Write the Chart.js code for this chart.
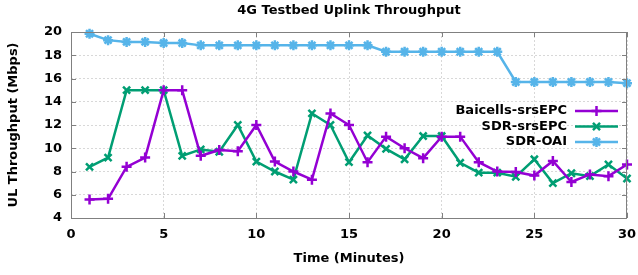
<!DOCTYPE html>
<html>
<head>
<meta charset="utf-8">
<script src="https://cdn.jsdelivr.net/npm/chart.js@4"></script>
<style>
  html, body { margin: 0; padding: 0; background: #fff; }
  #wrap { width: 638px; height: 275px; }
</style>
</head>
<body>
<div id="wrap"><canvas id="chart"></canvas></div>
<script>
// minutes 1..30
const minutes = [1, 2, 3, 4, 5, 6, 7, 8, 9, 10, 11, 12, 13, 14, 15, 16, 17, 18, 19, 20, 21, 22, 23, 24, 25, 26, 27, 28, 29, 30];

const baicellsSrs = [5.6, 5.65, 8.4, 9.2, 15, 15, 9.35, 9.85, 9.75, 12, 8.85, 8.0, 7.3, 13, 12, 8.8, 11, 10, 9.15, 11, 11, 8.8, 8.0, 7.95, 7.65, 8.9, 7.1, 7.75, 7.6, 8.6];
const sdrSrs = [8.4, 9.2, 15, 15, 15, 9.35, 9.9, 9.7, 12, 8.85, 8.0, 7.3, 13, 12, 8.8, 11.1, 9.95, 9.05, 11.05, 11.05, 8.75, 7.9, 7.9, 7.55, 9.05, 7.0, 7.85, 7.6, 8.6, 7.4];
const sdrOai = [19.85, 19.3, 19.15, 19.15, 19.05, 19.05, 18.85, 18.85, 18.85, 18.85, 18.85, 18.85, 18.85, 18.85, 18.85, 18.85, 18.3, 18.3, 18.3, 18.3, 18.3, 18.3, 18.3, 15.7, 15.7, 15.7, 15.7, 15.7, 15.7, 15.6];

const xTicks = [0, 5, 10, 15, 20, 25, 30];
const yTicks = [4, 6, 8, 10, 12, 14, 16, 18, 20];

const FONT = 'DejaVu Sans, Verdana, sans-serif';

function toPoints(vals) {
    return vals.map((v, i) => ({ x: minutes[i], y: v }));
}

function series(label, vals, color, style) {
    return {
        label: label,
        data: toPoints(vals),
        borderColor: color,
        backgroundColor: color,
        borderWidth: 2.5,
        pointStyle: style,
        pointRadius: 5,
        pointBorderWidth: 2.5,
        pointHoverRadius: 5,
        tension: 0,
        clip: 8
    };
}

// gnuplot style frame: full box plus inward ticks
const framePlugin = {
    id: 'frame',
    afterDatasetsDraw(chart) {
        const { ctx, chartArea: a, scales } = chart;
        ctx.save();
        ctx.strokeStyle = '#808080';
        ctx.lineWidth = 1;
        ctx.strokeRect(a.left + 0.5, a.top + 0.5, a.right - a.left - 1, a.bottom - a.top);
        ctx.beginPath();
        yTicks.forEach(t => {
            const y = Math.round(scales.y.getPixelForValue(t)) + 0.5;
            ctx.moveTo(a.left, y); ctx.lineTo(a.left + 5, y);
            ctx.moveTo(a.right, y); ctx.lineTo(a.right - 5, y);
        });
        xTicks.forEach(t => {
            const x = Math.round(scales.x.getPixelForValue(t)) + 0.5;
            ctx.moveTo(x, a.bottom); ctx.lineTo(x, a.bottom - 5);
            ctx.moveTo(x, a.top); ctx.lineTo(x, a.top + 5);
        });
        ctx.stroke();
        ctx.restore();
    }
};

// legend inside the plot, text on the left of the sample like gnuplot
const keyPlugin = {
    id: 'key',
    afterDatasetsDraw(chart) {
        const { ctx, chartArea: a } = chart;
        const textRight = a.right - 60;
        const lineL = a.right - 52;
        const lineR = a.right - 9;
        ctx.save();
        ctx.font = 'bold 13px ' + FONT;
        ctx.textAlign = 'right';
        ctx.textBaseline = 'middle';
        chart.data.datasets.forEach((ds, i) => {
            const y = a.top + 79 + i * 15.5;
            ctx.fillStyle = '#000';
            ctx.fillText(ds.label, textRight, y);
            ctx.strokeStyle = ds.borderColor;
            ctx.lineWidth = ds.borderWidth;
            ctx.beginPath();
            ctx.moveTo(lineL, y); ctx.lineTo(lineR, y);
            ctx.stroke();
            ctx.lineWidth = ds.pointBorderWidth;
            Chart.helpers.drawPoint(ctx, {
                pointStyle: ds.pointStyle, radius: ds.pointRadius, borderWidth: ds.pointBorderWidth, rotation: 0
            }, (lineL + lineR) / 2, y);
        });
        ctx.restore();
    }
};

document.addEventListener('DOMContentLoaded', function() {
    const ctx = document.getElementById('chart');

    new Chart(ctx, {
        type: 'line',
        data: {
            datasets: [
                series('Baicells-srsEPC', baicellsSrs, '#9400d3', 'cross'),
                series('SDR-srsEPC', sdrSrs, '#009e73', 'crossRot'),
                series('SDR-OAI', sdrOai, '#56b4e9', 'star')
            ]
        },
        options: {
            responsive: true,
            maintainAspectRatio: false,
            animation: false,
            layout: {
                padding: { top: 0, right: 11, left: 0, bottom: 0 }
            },
            plugins: {
                legend: { display: false },
                tooltip: { enabled: false },
                title: {
                    display: true,
                    text: '4G Testbed Uplink Throughput',
                    fullSize: false,
                    color: '#000',
                    font: { family: FONT, size: 13, weight: 'bold', lineHeight: 1.2 },
                    padding: { top: 3, bottom: 13.4 }
                }
            },
            scales: {
                x: {
                    type: 'linear',
                    min: 0,
                    max: 30,
                    afterBuildTicks(scale) {
                        scale.ticks = xTicks.map(v => ({ value: v }));
                    },
                    afterFit(scale) {
                        scale.height = 57;
                        scale.paddingLeft = 0;
                        scale.paddingRight = 0;
                    },
                    grid: {
                        color: '#d8d8d8',
                        drawTicks: false
                    },
                    border: { display: false, dash: [2, 2] },
                    ticks: {
                        padding: 9,
                        color: '#000',
                        maxRotation: 0,
                        font: { family: FONT, size: 13, weight: 'bold' }
                    },
                    title: {
                        display: true,
                        text: 'Time (Minutes)',
                        color: '#000',
                        font: { family: FONT, size: 13, weight: 'bold', lineHeight: 1.2 },
                        padding: { top: 0, bottom: 9 }
                    }
                },
                y: {
                    min: 4,
                    max: 20,
                    afterBuildTicks(scale) {
                        scale.ticks = yTicks.map(v => ({ value: v }));
                    },
                    afterFit(scale) {
                        scale.width = 71;
                        scale.paddingTop = 0;
                        scale.paddingBottom = 0;
                    },
                    grid: {
                        color: '#d8d8d8',
                        drawTicks: false
                    },
                    border: { display: false, dash: [2, 2] },
                    ticks: {
                        padding: 9,
                        color: '#000',
                        font: { family: FONT, size: 13, weight: 'bold' }
                    },
                    title: {
                        display: true,
                        text: 'UL Throughput (Mbps)',
                        color: '#000',
                        font: { family: FONT, size: 13, weight: 'bold', lineHeight: 1.2 },
                        padding: { top: 6, bottom: 0 }
                    }
                }
            }
        },
        plugins: [framePlugin, keyPlugin]
    });
});
</script>
</body>
</html>
